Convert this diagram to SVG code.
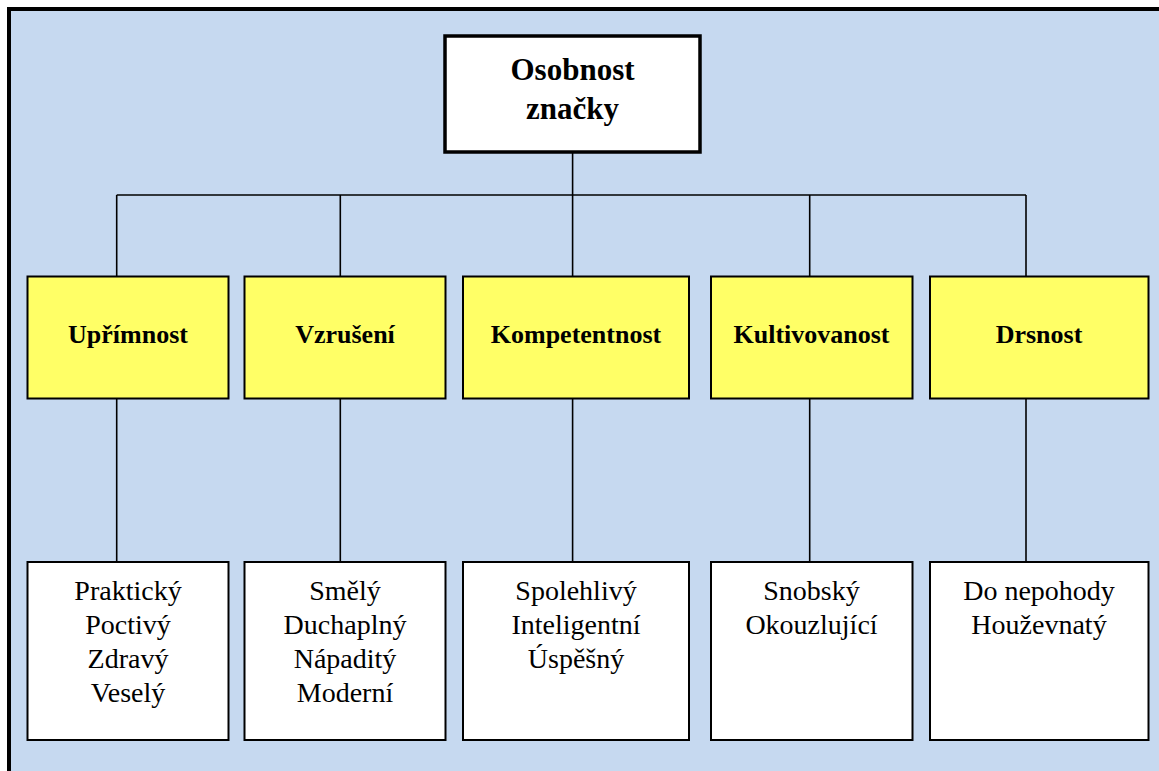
<svg xmlns="http://www.w3.org/2000/svg" width="1159" height="771" viewBox="0 0 1159 771">
<style>
.frame{fill:#C6D9F0;stroke:#000;stroke-width:4}
.root{fill:#fff;stroke:#000;stroke-width:3.5}
.cat{fill:#FFFF66;stroke:#000;stroke-width:2}
.leaf{fill:#fff;stroke:#000;stroke-width:2}
.conn{fill:none;stroke:#000;stroke-width:1.6}
.tb{font-family:"Liberation Serif","Times New Roman",serif;font-weight:bold;fill:#000;text-anchor:middle}
.tr{font-family:"Liberation Serif","Times New Roman",serif;font-size:28px;fill:#000;text-anchor:middle}
</style>
<rect class="frame" x="9" y="9" width="1170" height="790"/>
<g id="connectors">
<line class="conn" x1="572.6" y1="152" x2="572.6" y2="195"/>
<line class="conn" x1="116.7" y1="195" x2="1026" y2="195"/>
<line class="conn" x1="116.7" y1="195" x2="116.7" y2="276"/>
<line class="conn" x1="340.3" y1="195" x2="340.3" y2="276"/>
<line class="conn" x1="572.6" y1="195" x2="572.6" y2="276"/>
<line class="conn" x1="809.7" y1="195" x2="809.7" y2="276"/>
<line class="conn" x1="1026" y1="195" x2="1026" y2="276"/>
<line class="conn" x1="116.7" y1="399" x2="116.7" y2="562"/>
<line class="conn" x1="340.3" y1="399" x2="340.3" y2="562"/>
<line class="conn" x1="572.6" y1="399" x2="572.6" y2="562"/>
<line class="conn" x1="809.7" y1="399" x2="809.7" y2="562"/>
<line class="conn" x1="1026" y1="399" x2="1026" y2="562"/>
</g>
<g id="root">
<rect class="root" x="445" y="36" width="255" height="116"/>
<text class="tb" x="572.5" y="80" font-size="31">Osobnost</text>
<text class="tb" x="572.5" y="119" font-size="31">značky</text>
</g>
<g id="cat-uprimnost">
<rect class="cat" x="27.5" y="276.5" width="201" height="122"/>
<text class="tb" x="128" y="343" font-size="26">Upřímnost</text>
</g>
<g id="cat-vzruseni">
<rect class="cat" x="244.5" y="276.5" width="201" height="122"/>
<text class="tb" x="345" y="343" font-size="26">Vzrušení</text>
</g>
<g id="cat-kompetentnost">
<rect class="cat" x="463" y="276.5" width="226" height="122"/>
<text class="tb" x="576" y="343" font-size="26">Kompetentnost</text>
</g>
<g id="cat-kultivovanost">
<rect class="cat" x="711" y="276.5" width="201.5" height="122"/>
<text class="tb" x="811.5" y="343" font-size="26">Kultivovanost</text>
</g>
<g id="cat-drsnost">
<rect class="cat" x="930" y="276.5" width="218.5" height="122"/>
<text class="tb" x="1039" y="343" font-size="26">Drsnost</text>
</g>
<g id="leaf-uprimnost">
<rect class="leaf" x="27.5" y="562" width="201" height="178"/>
<text class="tr" x="128" y="600">Praktický</text>
<text class="tr" x="128" y="634">Poctivý</text>
<text class="tr" x="128" y="668">Zdravý</text>
<text class="tr" x="128" y="702">Veselý</text>
</g>
<g id="leaf-vzruseni">
<rect class="leaf" x="244.5" y="562" width="201" height="178"/>
<text class="tr" x="345" y="600">Smělý</text>
<text class="tr" x="345" y="634">Duchaplný</text>
<text class="tr" x="345" y="668">Nápaditý</text>
<text class="tr" x="345" y="702">Moderní</text>
</g>
<g id="leaf-kompetentnost">
<rect class="leaf" x="463" y="562" width="226" height="178"/>
<text class="tr" x="576" y="600">Spolehlivý</text>
<text class="tr" x="576" y="634">Inteligentní</text>
<text class="tr" x="576" y="668">Úspěšný</text>
</g>
<g id="leaf-kultivovanost">
<rect class="leaf" x="711" y="562" width="201.5" height="178"/>
<text class="tr" x="811.5" y="600">Snobský</text>
<text class="tr" x="811.5" y="634">Okouzlující</text>
</g>
<g id="leaf-drsnost">
<rect class="leaf" x="930" y="562" width="218.5" height="178"/>
<text class="tr" x="1039" y="600">Do nepohody</text>
<text class="tr" x="1039" y="634">Houževnatý</text>
</g>
</svg>
